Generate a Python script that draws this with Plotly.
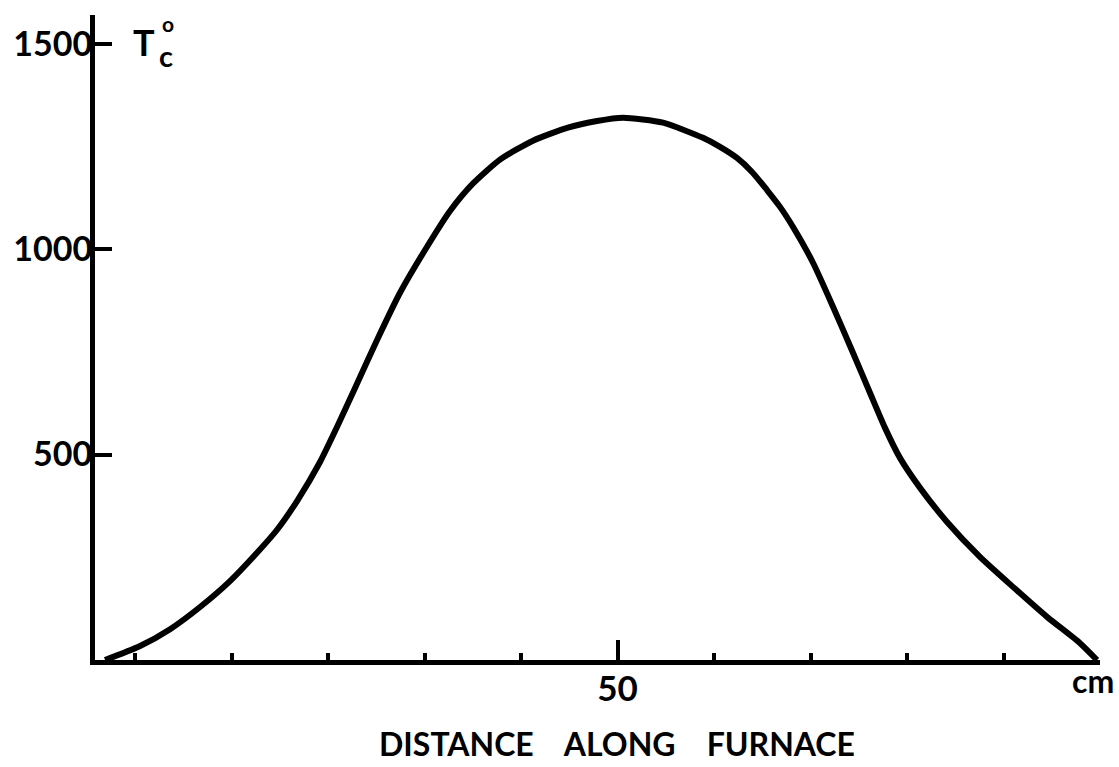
import plotly.graph_objects as go

# Data (distance along furnace in cm, temperature in deg C)
distance_cm = [-3.11, 0.52, 3.63, 6.74, 9.84, 12.64, 14.72, 16.79, 19.17, 20.93, 22.80,
               25.08, 27.46, 30.26, 32.64, 35.03, 37.82, 41.24, 44.77, 47.88, 50.57,
               54.72, 58.86, 60.62, 62.38, 63.94, 65.49, 66.84, 68.19, 70.26, 72.33,
               74.40, 76.17, 77.72, 79.27, 81.35, 84.15, 87.56, 90.98, 94.51, 97.93, 99.69]
temperature_c = [0, 34, 75, 129, 192, 261, 317, 387, 482, 567, 662,
                 779, 894, 1006, 1093, 1160, 1218, 1264, 1295, 1312, 1320,
                 1308, 1271, 1249, 1222, 1188, 1144, 1103, 1054, 967, 860,
                 748, 650, 565, 492, 419, 336, 251, 178, 105, 41, 0]

y_tickvals = [500, 1000, 1500]
y_ticktext = ["500", "1000", "1500"]
x_major_tickvals = [50]
x_major_ticktext = ["50"]
x_minor_tickvals = [0, 10, 20, 30, 40, 60, 70, 80, 90]

FONT = "Lato"

fig = go.Figure()
fig.add_trace(go.Scatter(
    x=distance_cm, y=temperature_c, mode="lines",
    line=dict(color="black", width=6, shape="spline", smoothing=0.6),
    hoverinfo="skip", showlegend=False,
))

fig.update_layout(
    width=1119, height=767,
    margin=dict(l=95, r=19, t=15, b=107),
    paper_bgcolor="white", plot_bgcolor="white",
    showlegend=False,
    xaxis=dict(
        range=[-4.15, 100.0], showgrid=False, zeroline=False, automargin=False,
        showline=True, linecolor="black", linewidth=5,
        tickmode="array", tickvals=x_major_tickvals, ticktext=x_major_ticktext,
        ticks="inside", ticklen=20, tickwidth=4, tickcolor="black",
        ticklabelstandoff=-6,
        tickfont=dict(family=FONT, size=35, color="black", weight="bold"),
        minor=dict(tickmode="array", tickvals=x_minor_tickvals, ticks="inside",
                   ticklen=7, tickwidth=4, tickcolor="black", showgrid=False),
    ),
    yaxis=dict(
        range=[0, 1570], showgrid=False, zeroline=False, automargin=False,
        showline=True, linecolor="black", linewidth=5,
        tickmode="array", tickvals=y_tickvals, ticktext=y_ticktext,
        ticks="inside", ticklen=17, tickwidth=4, tickcolor="black",
        ticklabelstandoff=-9,
        tickfont=dict(family=FONT, size=34, color="black", weight="bold"),
    ),
)

def px_to_paper(px, py):
    return (px - 95) / 1005.0, (660 - py) / 645.0

annots = [
    ("DISTANCE\u00a0\u00a0\u00a0\u00a0ALONG\u00a0\u00a0\u00a0\u00a0FURNACE", 617, 743, 32, "center"),
    ("cm", 1116, 680, 32, "right"),
    ("T", 144, 42, 36, "center"),
    ("o", 168, 23, 21, "center"),
    ("c", 166, 56, 29, "center"),
]
for text, px, py, size, anchor in annots:
    ax, ay = px_to_paper(px, py)
    fig.add_annotation(
        text=text, x=ax, y=ay, xref="paper", yref="paper",
        xanchor=anchor, yanchor="middle", showarrow=False,
        font=dict(family=FONT, size=size, color="black", weight="bold"),
    )

fig.write_html("out.html")
